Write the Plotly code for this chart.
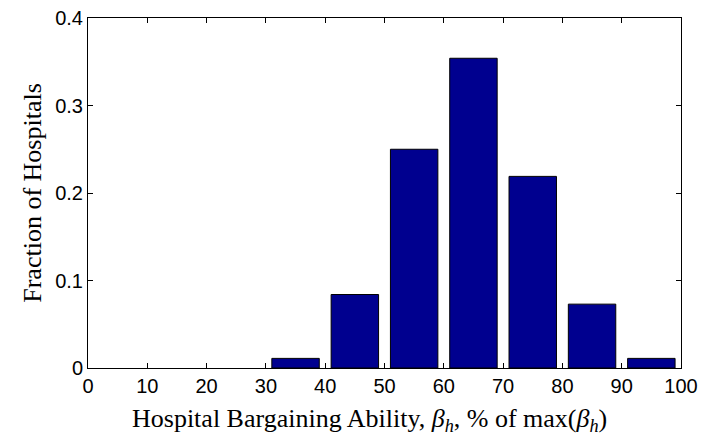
import plotly.graph_objects as go

bin_centers = [35, 45, 55, 65, 75, 85, 95]
fractions = [0.011, 0.084, 0.25, 0.354, 0.219, 0.073, 0.011]
x_ticks = [0, 10, 20, 30, 40, 50, 60, 70, 80, 90, 100]
y_ticks = [0, 0.1, 0.2, 0.3, 0.4]
y_tick_labels = ["0", "0.1", "0.2", "0.3", "0.4"]
x_title = "Hospital Bargaining Ability, <i>β</i><sub><i>h</i></sub>, % of max(<i>β</i><sub><i>h</i></sub>)"
y_title = "Fraction of Hospitals"

fig = go.Figure()
fig.add_trace(go.Bar(
    x=bin_centers, y=fractions, width=8,
    marker=dict(color="#00008f", line=dict(color="black", width=1)),
))

axis_common = dict(
    showline=True, linecolor="black", linewidth=1, mirror="ticks",
    ticks="inside", ticklen=5, tickcolor="black", showgrid=False, zeroline=False,
    tickfont=dict(family="Liberation Sans, Arial", size=20, color="black"),
)
fig.update_xaxes(range=[0, 100], tickvals=x_ticks, **axis_common)
fig.update_yaxes(range=[0, 0.4], tickvals=y_ticks, ticktext=y_tick_labels, **axis_common,
                 title=dict(text=y_title,
                            font=dict(family="Liberation Serif, DejaVu Serif", size=26, color="black"), standoff=6))

fig.add_annotation(
    text=x_title, xref="paper", yref="paper", x=0.475, y=0, yanchor="middle",
    yshift=-52, showarrow=False,
    font=dict(family="Liberation Serif, DejaVu Serif", size=26, color="black"),
)

fig.update_layout(
    width=702, height=444,
    margin=dict(l=88, r=21, t=18, b=76, autoexpand=False),
    plot_bgcolor="white", paper_bgcolor="white",
    showlegend=False,
)
fig.write_html("out.html", config={"displayModeBar": False},
               post_script="document.body.style.margin='0';")
